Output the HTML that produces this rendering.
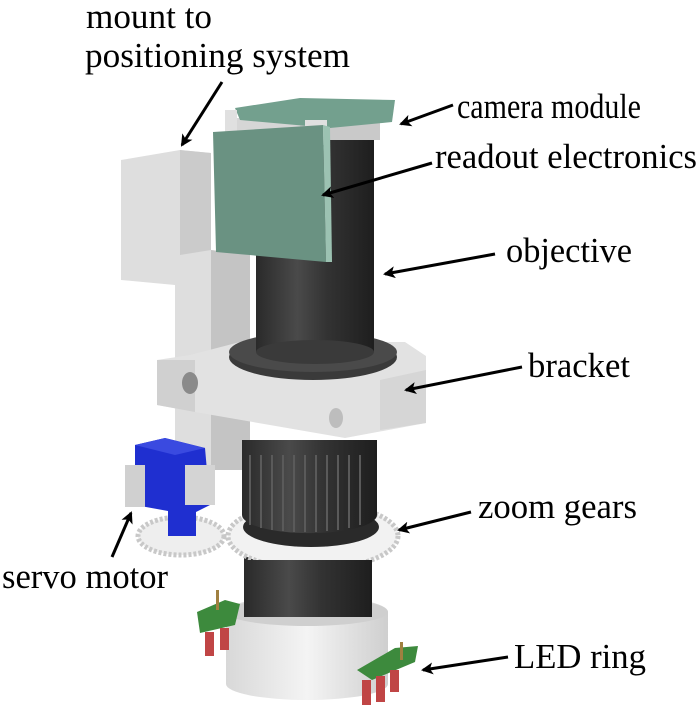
<!DOCTYPE html>
<html><head><meta charset="utf-8"><style>
html,body{margin:0;padding:0;background:#fff;}
svg{display:block;}
text{font-family:"Liberation Serif",serif;font-size:35px;fill:#000;}
</style></head><body>
<svg width="700" height="709" viewBox="0 0 700 709" xmlns="http://www.w3.org/2000/svg">
<defs>
<linearGradient id="cyl" x1="0" x2="1" y1="0" y2="0">
<stop offset="0" stop-color="#2a2a2a"/><stop offset="0.35" stop-color="#4a4a4a"/><stop offset="0.6" stop-color="#333"/><stop offset="1" stop-color="#1e1e1e"/>
</linearGradient>
<linearGradient id="wh" x1="0" x2="1"><stop offset="0" stop-color="#d8d8d8"/><stop offset="0.5" stop-color="#f4f4f4"/><stop offset="1" stop-color="#cfcfcf"/></linearGradient>
<marker id="ah" markerWidth="12" markerHeight="12" refX="10" refY="6" orient="auto" markerUnits="userSpaceOnUse"><path d="M0,0 L12,6 L0,12 L3,6 z" fill="#000"/></marker>
</defs>
<!-- mount plate -->
<polygon points="121,160 180,150 211,153 211,250 250,255 250,470 200,470 175,455 175,285 121,280" fill="#dedede"/>
<polygon points="180,150 211,153 211,250 180,255" fill="#cbcbcb"/>
<polygon points="211,250 250,255 250,470 211,470" fill="#c4c4c4"/>
<!-- objective -->
<rect x="256" y="130" width="118" height="230" fill="url(#cyl)"/>
<!-- camera module -->
<rect x="225" y="118" width="100" height="18" fill="#d6d6d6"/>
<rect x="300" y="120" width="80" height="20" fill="#c9c9c9"/>
<polygon points="235,108 300,98 395,100 392,122 330,128 240,120" fill="#73a08e"/>
<rect x="225" y="110" width="12" height="30" fill="#e0e0e0"/>
<rect x="305" y="120" width="22" height="25" fill="#e0e0e0"/>
<!-- readout board -->
<polygon points="213,132 323,125 326,262 216,252" fill="#6a9282"/>
<polygon points="323,125 330,127 332,262 326,262" fill="#9cc2b2"/>
<!-- bracket -->
<polygon points="157,360 190,355 240,342 405,342 426,356 426,423 345,438 195,412 157,405" fill="#e2e2e2"/>
<polygon points="157,360 195,360 195,412 157,405" fill="#d0d0d0"/>
<polygon points="380,380 426,370 426,423 380,430" fill="#d6d6d6"/>
<ellipse cx="190" cy="383" rx="8" ry="11" fill="#8a8a8a"/>
<ellipse cx="336" cy="418" rx="7" ry="10" fill="#bdbdbd"/>
<ellipse cx="313" cy="357" rx="84" ry="23" fill="#3a3a3a"/>
<ellipse cx="313" cy="352" rx="84" ry="20" fill="#4a4a4a"/>
<rect x="256" y="300" width="118" height="52" fill="url(#cyl)"/>
<ellipse cx="315" cy="352" rx="59" ry="12" fill="#3a3a3a"/>
<!-- lower cylinder -->
<rect x="244" y="500" width="128" height="150" fill="url(#cyl)"/>
<!-- large gear -->
<ellipse cx="313" cy="536" rx="85" ry="33" fill="#f2f2f2" stroke="#c8c8c8" stroke-dasharray="3,2" stroke-width="5"/>
<ellipse cx="311" cy="527" rx="68" ry="20" fill="#2a2a2a"/>
<!-- spline cylinder -->
<path d="M242,440 L377,440 L377,515 A67,18 0 0 1 242,515 z" fill="url(#cyl)"/>
<g stroke="#5a5a5a" stroke-width="2"><line x1="250" y1="455" x2="250" y2="525"/><line x1="261" y1="455" x2="261" y2="528"/><line x1="272" y1="455" x2="272" y2="530"/><line x1="283" y1="455" x2="283" y2="531"/><line x1="294" y1="455" x2="294" y2="532"/><line x1="305" y1="455" x2="305" y2="532"/><line x1="316" y1="455" x2="316" y2="532"/><line x1="327" y1="455" x2="327" y2="531"/><line x1="338" y1="455" x2="338" y2="530"/><line x1="349" y1="455" x2="349" y2="528"/><line x1="360" y1="455" x2="360" y2="525"/></g>
<!-- servo -->
<ellipse cx="181" cy="536" rx="43" ry="19" fill="#eeeeee" stroke="#c8c8c8" stroke-dasharray="3,2" stroke-width="5"/>
<polygon points="135,445 165,438 205,448 210,505 190,515 135,505" fill="#1f2fd0"/>
<polygon points="135,445 165,438 205,448 175,455" fill="#3a4ae0"/>
<rect x="125" y="465" width="20" height="42" fill="#d0d0d0"/>
<rect x="185" y="465" width="30" height="40" fill="#d4d4d4"/>
<rect x="168" y="508" width="28" height="28" fill="#1f2fd0"/>
<!-- LED ring -->
<path d="M226,612 A81,16 0 0 1 388,612 L388,684 A81,16 0 0 1 226,684 z" fill="url(#wh)"/>
<ellipse cx="307" cy="612" rx="81" ry="14" fill="#cfcfcf"/>
<rect x="244" y="560" width="128" height="57" fill="url(#cyl)"/>
<!-- small pcbs -->
<polygon points="197,612 225,600 240,604 235,625 200,633" fill="#3d8a3d"/>
<rect x="216" y="590" width="3" height="20" fill="#a08040"/>
<rect x="205" y="632" width="9" height="24" fill="#c04545"/><rect x="220" y="628" width="9" height="22" fill="#c04545"/>
<polygon points="357,670 395,648 418,646 415,662 372,680" fill="#3d8a3d"/>
<rect x="400" y="642" width="3" height="18" fill="#a08040"/>
<rect x="362" y="680" width="9" height="25" fill="#c04545"/><rect x="376" y="676" width="9" height="26" fill="#c04545"/><rect x="390" y="670" width="9" height="22" fill="#c04545"/>
<!-- labels -->
<text x="86" y="28" textLength="126" lengthAdjust="spacingAndGlyphs">mount to</text>
<text x="85" y="67" textLength="265" lengthAdjust="spacingAndGlyphs">positioning system</text>
<text x="457" y="118" textLength="184" lengthAdjust="spacingAndGlyphs">camera module</text>
<text x="435" y="168" textLength="262" lengthAdjust="spacingAndGlyphs">readout electronics</text>
<text x="506" y="262" textLength="126" lengthAdjust="spacingAndGlyphs">objective</text>
<text x="528" y="377" textLength="102" lengthAdjust="spacingAndGlyphs">bracket</text>
<text x="478" y="518" textLength="159" lengthAdjust="spacingAndGlyphs">zoom gears</text>
<text x="2" y="588" textLength="166" lengthAdjust="spacingAndGlyphs">servo motor</text>
<text x="514" y="668" textLength="132" lengthAdjust="spacingAndGlyphs">LED ring</text>
<g stroke="#000" stroke-width="3" marker-end="url(#ah)">
<line x1="222" y1="82" x2="182" y2="145"/>
<line x1="453" y1="105" x2="401" y2="124"/>
<line x1="432" y1="163" x2="323" y2="195"/>
<line x1="495" y1="254" x2="385" y2="274"/>
<line x1="522" y1="367" x2="406" y2="390"/>
<line x1="471" y1="512" x2="399" y2="530"/>
<line x1="112" y1="557" x2="131" y2="513"/>
<line x1="508" y1="657" x2="423" y2="670"/>
</g>
</svg>
</body></html>
